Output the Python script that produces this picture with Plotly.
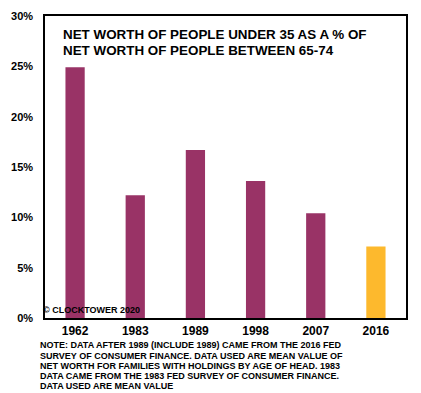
import plotly.graph_objects as go

years = ["1962", "1983", "1989", "1998", "2007", "2016"]
values = [24.9, 12.2, 16.7, 13.6, 10.4, 7.1]
colors = ["#993366", "#993366", "#993366", "#993366", "#993366", "#FDB92D"]
title_lines = ["NET WORTH OF PEOPLE UNDER 35 AS A % OF", "NET WORTH OF PEOPLE BETWEEN 65-74"]
note_lines = [
    "NOTE: DATA AFTER 1989 (INCLUDE 1989) CAME FROM THE 2016 FED",
    "SURVEY OF CONSUMER FINANCE. DATA USED ARE MEAN VALUE OF",
    "NET WORTH FOR FAMILIES WITH HOLDINGS BY AGE OF HEAD. 1983",
    "DATA CAME FROM THE 1983 FED SURVEY OF CONSUMER FINANCE.",
    "DATA USED ARE MEAN VALUE",
]
copyright_text = "© CLOCKTOWER 2020"
yticks = [0, 5, 10, 15, 20, 25, 30]

FONT = "Liberation Sans, Arial, sans-serif"

fig = go.Figure(go.Bar(
    x=years, y=values, marker=dict(color=colors, line=dict(width=0)),
    width=0.32,
))

fig.update_layout(
    width=421, height=393,
    margin=dict(l=45, r=15, t=10, b=75),
    plot_bgcolor="white", paper_bgcolor="white",
    showlegend=False,
    font=dict(family=FONT, color="black"),
    xaxis=dict(showline=True, linecolor="black", linewidth=1.5, mirror=True,
               ticks="", tickfont=dict(size=12, family=FONT, weight="bold"),
               showgrid=False, ticklabelstandoff=1),
    yaxis=dict(range=[0, 30], tickvals=yticks, ticktext=[f"{v}%" for v in yticks],
               showline=True, linecolor="black", linewidth=1.5, mirror=True,
               ticks="", showgrid=False, zeroline=False, ticklabelstandoff=8,
               tickfont=dict(size=11, family=FONT, weight="bold")),
)

anns = []
for i, t in enumerate(title_lines):
    anns.append(dict(text=t, xref="paper", yref="paper", x=(61-45)/361, y=1-(29+16*i-10)/308,
                     xanchor="left", yanchor="middle", showarrow=False,
                     font=dict(size=13.4, family=FONT, weight="bold")))
for i, t in enumerate(note_lines):
    anns.append(dict(text=t, xref="paper", yref="paper", x=(38-45)/361, y=-(346+10.3*i-318)/308,
                     xanchor="left", yanchor="middle", showarrow=False,
                     font=dict(size=9, family=FONT, weight="bold")))
anns.append(dict(text=copyright_text, xref="paper", yref="paper", x=(41-45)/361, y=(318-310)/308,
                 xanchor="left", yanchor="middle", showarrow=False,
                 font=dict(size=9, family=FONT, weight="bold")))
fig.update_layout(annotations=anns)

fig.write_html("out.html", config={"displayModeBar": False},
               post_script="document.body.style.margin='0';document.body.style.overflow='hidden';")
